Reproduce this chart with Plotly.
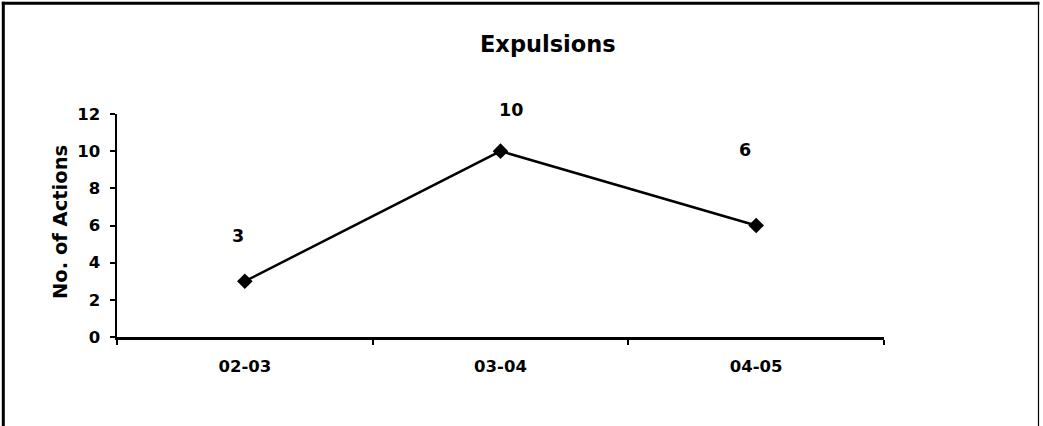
import plotly.graph_objects as go

categories = ["02-03", "03-04", "04-05"]
values = [3, 10, 6]
y_ticks = [0, 2, 4, 6, 8, 10, 12]
title_text = "Expulsions"
y_title = "No. of Actions"

W, H = 1043, 426
L, R, T, B = 117, 884, 114, 337  # plot area in pixels

def px(x):
    return (x - L) / (R - L)

def py(y):
    return (B - y) / (B - T)

FONT = "DejaVu Sans"

fig = go.Figure()
fig.add_trace(go.Scatter(
    x=categories, y=values, mode="lines+markers",
    line=dict(color="black", width=2.5),
    marker=dict(symbol="diamond", size=12, color="black"),
    showlegend=False, hoverinfo="skip",
))

label_shifts = [(-7, 45), (10, 41), (-11, 76)]
annotations = []
for c, v, (dx, dy) in zip(categories, values, label_shifts):
    annotations.append(dict(
        x=c, y=v, xref="x", yref="y", text=str(v), showarrow=False,
        xshift=dx, yshift=dy, xanchor="center", yanchor="middle",
        font=dict(family=FONT, size=17.5, color="black", weight="bold"),
    ))

annotations.append(dict(
    x=px(60), y=py(222), xref="paper", yref="paper", text=y_title,
    showarrow=False, textangle=-90, xanchor="center", yanchor="middle",
    font=dict(family=FONT, size=19.5, color="black", weight="bold"),
))

annotations.append(dict(
    x=px(548), y=py(44), xref="paper", yref="paper", text=title_text,
    showarrow=False, xanchor="center", yanchor="middle",
    font=dict(family=FONT, size=22.5, color="black", weight="bold"),
))

shapes = [
    dict(type="line", xref="paper", yref="paper", x0=px(3.3), x1=px(3.3),
         y0=py(1.8), y1=py(430), line=dict(color="black", width=3)),
    dict(type="line", xref="paper", yref="paper", x0=px(1.8), x1=px(1039.5),
         y0=py(3.3), y1=py(3.3), line=dict(color="black", width=3)),
    dict(type="line", xref="paper", yref="paper", x0=px(1038.5), x1=px(1038.5),
         y0=py(3), y1=py(430), line=dict(color="black", width=1.2)),
]

fig.update_layout(
    width=W, height=H,
    margin=dict(l=L, r=W - R, t=T, b=H - B, pad=0),
    paper_bgcolor="white", plot_bgcolor="white",
    annotations=annotations, shapes=shapes,
    xaxis=dict(
        type="category", range=[-0.5, 2.5], tickson="boundaries",
        ticks="outside", ticklen=5, tickwidth=2, tickcolor="black",
        showline=True, linecolor="black", linewidth=2.5,
        showgrid=False, zeroline=False,
        tickfont=dict(family=FONT, size=16.5, color="black", weight="bold"),
        ticklabelstandoff=13,
    ),
    yaxis=dict(
        range=[0, 12], tickvals=y_ticks, ticktext=[str(t) for t in y_ticks],
        ticks="outside", ticklen=5, tickwidth=2, tickcolor="black",
        showline=True, linecolor="black", linewidth=2.5,
        showgrid=False, zeroline=False,
        tickfont=dict(family=FONT, size=16.5, color="black", weight="bold"),
        ticklabelstandoff=6,
    ),
)

fig.write_html(
    "out.html",
    config={"displayModeBar": False, "staticPlot": True},
    post_script="document.body.style.margin='0';document.body.style.overflow='hidden';",
)
